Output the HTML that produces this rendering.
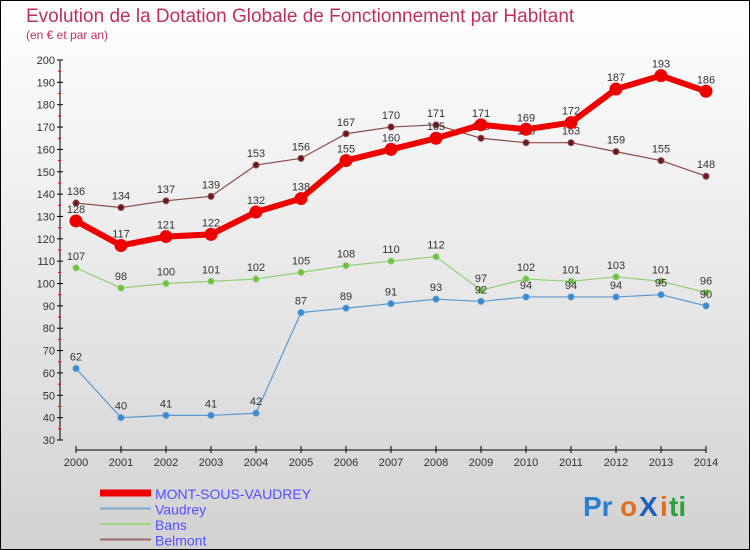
<!DOCTYPE html>
<html><head><meta charset="utf-8"><style>
body{margin:0;width:750px;height:550px;overflow:hidden;font-family:"Liberation Sans",sans-serif}
svg{display:block}
</style></head><body>
<svg id="chart" width="750" height="550" xmlns="http://www.w3.org/2000/svg">
<defs><linearGradient id="bg" x1="0" y1="0" x2="0" y2="1"><stop offset="0" stop-color="#ffffff"/><stop offset="1" stop-color="#d2d2d2"/></linearGradient></defs>
<rect x="0.5" y="0.5" width="749" height="549" fill="url(#bg)" stroke="#000"/>
<text x="26" y="22" font-size="19" fill="#c0305a">Evolution de la Dotation Globale de Fonctionnement par Habitant</text>
<text x="26" y="39" font-size="12" fill="#c0305a">(en € et par an)</text>
<g id="axes"></g><g id="series"></g><g id="legend"></g>
<g font-size="28" font-family="Liberation Sans" font-weight="bold">
<text x="583" y="516" fill="#2a7fd0">Pr</text><text x="620" y="516" fill="#e07020">o</text><text x="639" y="516" fill="#2060c0">X</text><text x="660" y="516" fill="#e07020">i</text><text x="669" y="516" fill="#30a040">ti</text>
</g>
</svg>
<script>
const years=[2000,2001,2002,2003,2004,2005,2006,2007,2008,2009,2010,2011,2012,2013,2014];
const yTicks=[30,40,50,60,70,80,90,100,110,120,130,140,150,160,170,180,190,200];
const msv=[128,117,121,122,132,138,155,160,165,171,169,172,187,193,186];
const vaudrey=[62,40,41,41,42,87,89,91,93,92,94,94,94,95,90];
const bans=[107,98,100,101,102,105,108,110,112,97,102,101,103,101,96];
const belmont=[136,134,137,139,153,156,167,170,171,165,163,163,159,155,148];
const NS="http://www.w3.org/2000/svg";
const X=i=>76+i*45, Y=v=>440-(v-30)*380/170;
function mk(t,a,p){const e=document.createElementNS(NS,t);for(const k in a)e.setAttribute(k,a[k]);p.appendChild(e);return e;}
const ax=document.getElementById('axes');
let l=mk('line',{x1:60,y1:Y(200),x2:60,y2:Y(30),stroke:'#000'},ax);


yTicks.forEach(v=>{
 mk('line',{x1:57,y1:Y(v),x2:63,y2:Y(v),stroke:'#000'},ax);
 if(v<200) mk('line',{x1:58,y1:Y(v+5),x2:61,y2:Y(v+5),stroke:'#e00'},ax);
 const t=mk('text',{x:55,y:Y(v)+4,'text-anchor':'end','font-size':11,fill:'#333'},ax);t.textContent=v;
 
 
});
l=mk('line',{x1:X(0),y1:450,x2:X(14),y2:450,stroke:'#000'},ax);


years.forEach((y,i)=>{
 mk('line',{x1:X(i),y1:446,x2:X(i),y2:453,stroke:'#000'},ax);
 const t=mk('text',{x:X(i),y:466,'text-anchor':'middle','font-size':11,fill:'#333'},ax);t.textContent=y;
 
 
});
const sg=document.getElementById('series');
function draw(data,color,w,r,dot,name){
 const g=mk('g',{},sg);
 
 
 mk('polyline',{points:data.map((v,i)=>X(i)+','+Y(v)).join(' '),fill:'none',stroke:color,'stroke-width':w},g);
 data.forEach((v,i)=>{
  const c=mk('circle',{cx:X(i),cy:Y(v),r:r,fill:dot,stroke:color,'stroke-width':1},g);
  
  
  const t=mk('text',{x:X(i),y:Y(v)-8,'text-anchor':'middle','font-size':11,fill:'#333'},g);t.textContent=v;
  
  
 });
}
draw(belmont,'#8b4a4a',1.2,3,'#6a1a1a','belmont');
draw(bans,'#90d070',1.2,3,'#70c040','bans');
draw(vaudrey,'#5a9ad0',1.2,3,'#3a8ad0','vaudrey');
draw(msv,'#ee0000',6,6,'#ee0000','mont-sous-vaudrey');
const lg=document.getElementById('legend');
[['MONT-SOUS-VAUDREY','#ee0000',7,'legend-mont-sous-vaudrey'],['Vaudrey','#7aaad0',2,'legend-vaudrey'],['Bans','#a0d880',2,'legend-bans'],['Belmont','#9a6868',2,'legend-belmont']].forEach((d,i)=>{
 const y=493+i*15.5;
 const g=mk('g',{},lg);
 
 
 mk('line',{x1:100,y1:y,x2:151,y2:y,stroke:d[1],'stroke-width':d[2]},g);
 const t=mk('text',{x:155,y:y+6,'font-size':14,fill:'#5050ff'},g);t.textContent=d[0];
});
</script>
</body></html>
